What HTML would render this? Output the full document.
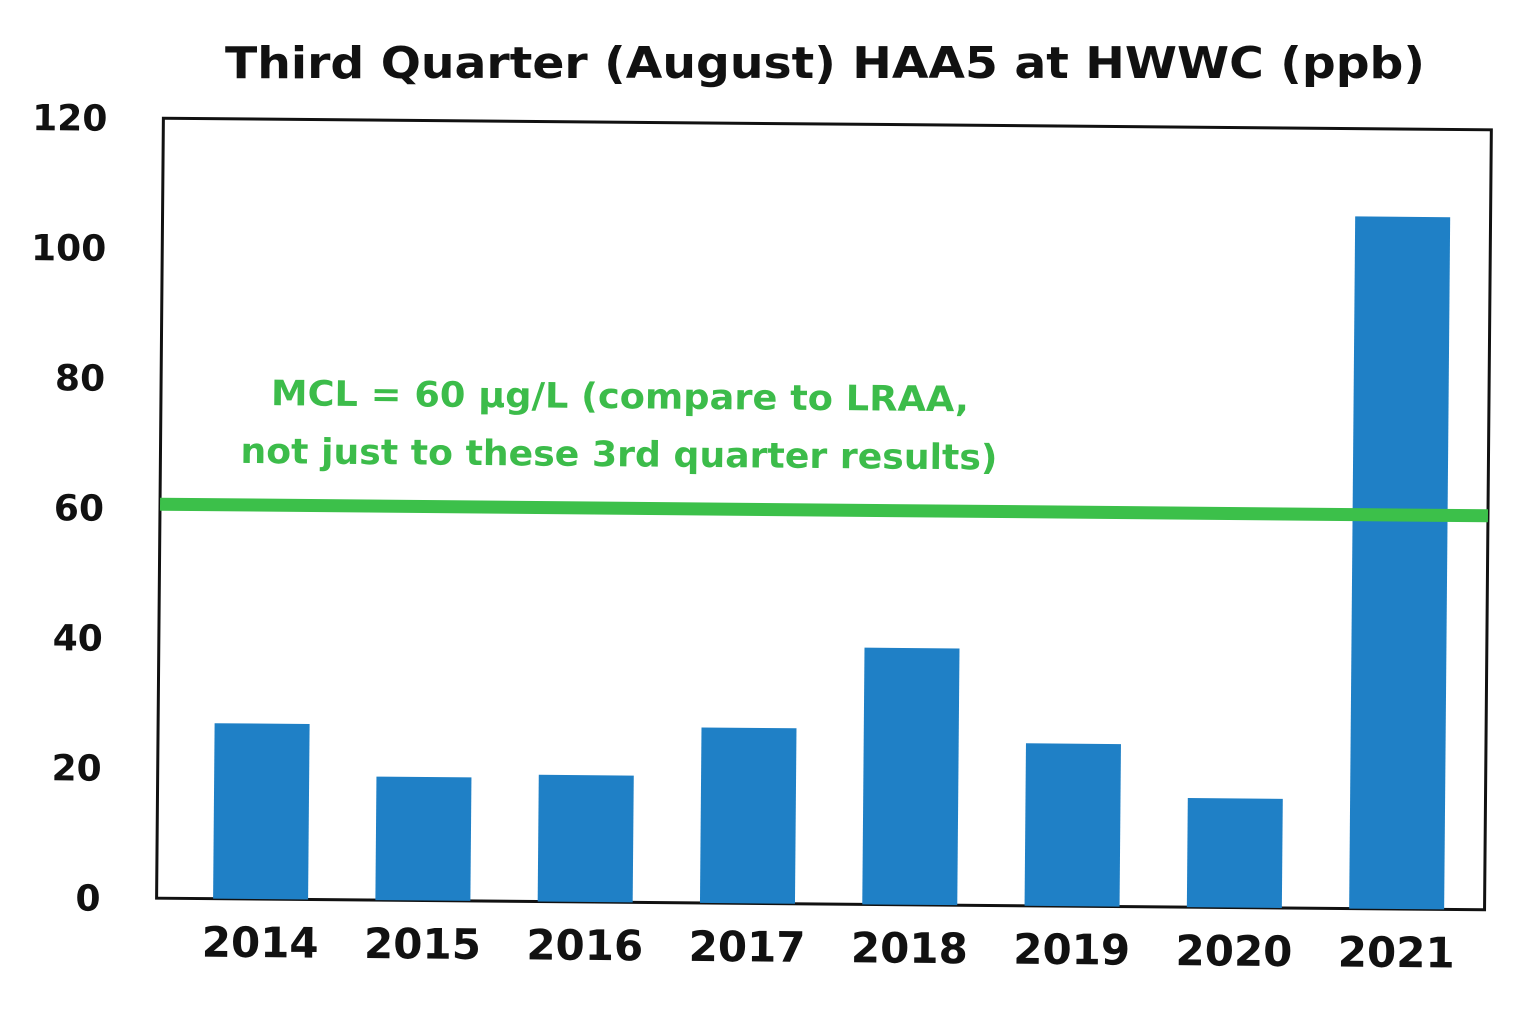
<!DOCTYPE html>
<html><head><meta charset="utf-8"><style>
html,body{margin:0;padding:0;background:#fff;}
svg{display:block;font-family:"DejaVu Sans","Liberation Sans",sans-serif;}
</style></head><body>
<svg id="chart" width="1536" height="1021" viewBox="0 0 1536 1021">
<text x="825" y="78" text-anchor="middle" font-size="44" font-weight="bold" fill="#111" textLength="1200" lengthAdjust="spacingAndGlyphs">Third Quarter (August) HAA5 at HWWC (ppb)</text>
<g id="plot" transform="rotate(0.5 824 510)"></g>
</svg>
<script>
const categories = ["2014","2015","2016","2017","2018","2019","2020","2021"];
const values = [27, 19, 19.5, 27, 39.5, 25, 16.8, 106.5];
const yTicks = [0, 20, 40, 60, 80, 100, 120];
const mclValue = [60];
const mclLines = ["MCL = 60 \u00b5g/L (compare to LRAA,", "not just to these 3rd quarter results)"];

const NS = "http://www.w3.org/2000/svg";
const g = document.getElementById("plot");
const x0 = 160, x1 = 1488, yb = 904, yt = 124;
const y = v => yb - (v / 120) * (yb - yt);
const step = 162.3, first = 264;
const xc = i => first + step * i;
const bw = 95;
function mk(tag, attrs) { const e = document.createElementNS(NS, tag); for (const k in attrs) e.setAttribute(k, attrs[k]); g.appendChild(e); return e; }

const frame = mk("rect", {x: x0, y: yt, width: x1 - x0, height: yb - yt, fill: "none", stroke: "#111", "stroke-width": 3});



yTicks.forEach(t => {
  const e = mk("text", {x: 104, y: y(t) + 13, "text-anchor": "end", "font-size": 36, "font-weight": "bold", fill: "#111"});
  e.textContent = t;
  
  
});

values.forEach((v, i) => {
  const r = mk("rect", {x: xc(i) - bw / 2, y: y(v), width: bw, height: yb - y(v), fill: "#1f80c6"});
  
  
  const t = mk("text", {x: xc(i), y: 962, "text-anchor": "middle", "font-size": 42, "font-weight": "bold", fill: "#111"});
  t.textContent = categories[i];
  
  
});

const ml = mk("line", {x1: x0, x2: x1, y1: y(mclValue[0]) - 4, y2: y(mclValue[0]) - 4, stroke: "#3cc04a", "stroke-width": 13});



const ann = [[270, 410, 698], [240, 468, 757]];
mclLines.forEach((s, i) => {
  const t = mk("text", {x: ann[i][0], y: ann[i][1], "font-size": 35, "font-weight": "bold", fill: "#3cbc4a", textLength: ann[i][2], lengthAdjust: "spacingAndGlyphs"});
  t.textContent = s;
  
  
});
</script>
</body></html>
